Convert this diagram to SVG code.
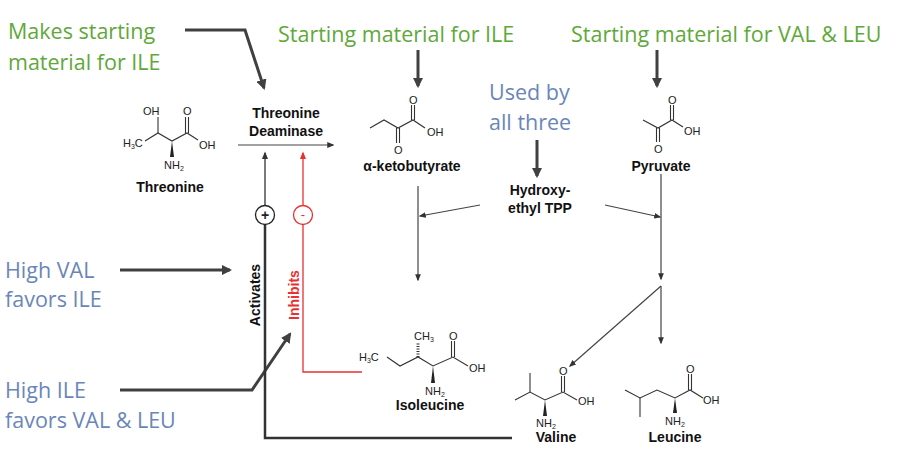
<svg xmlns="http://www.w3.org/2000/svg" width="919" height="462" viewBox="0 0 919 462">
<style>
.g{font-family:"Open Sans",Lato,sans-serif;font-size:21.5px;fill:#5fa83a}
.b{font-family:"Open Sans",Lato,sans-serif;font-size:21.5px;fill:#6a86b8}
.l{font-family:"Liberation Sans",Arial,sans-serif;font-size:14px;font-weight:bold;fill:#111;text-anchor:middle}
.a{font-family:"Liberation Sans",Arial,sans-serif;font-size:11px;fill:#222}
.m{stroke:#333;stroke-width:1.1;fill:none}
.big{stroke:#404040;stroke-width:3;fill:none}
.thin{stroke:#444;stroke-width:1.2;fill:none}
</style>
<defs>
<marker id="ab" viewBox="0 0 10 10" refX="8" refY="5" markerWidth="3.5" markerHeight="3.5" orient="auto"><path d="M0,0L10,5L0,10z" fill="#404040"/></marker>
<marker id="as" viewBox="0 0 10 10" refX="8" refY="5" markerWidth="6" markerHeight="6" orient="auto"><path d="M0,1L10,5L0,9z" fill="#333"/></marker>
<marker id="ar" viewBox="0 0 10 10" refX="8" refY="5" markerWidth="6" markerHeight="6" orient="auto"><path d="M0,1L10,5L0,9z" fill="#e83030"/></marker>
</defs>
<rect width="919" height="462" fill="#fff"/>

<g id="labels">
<text class="g" x="8" y="39">Makes starting</text>
<text class="g" x="8" y="70">material for ILE</text>
<text class="g" x="278" y="42">Starting material for ILE</text>
<text class="g" x="571" y="42">Starting material for VAL &amp; LEU</text>
<text class="b" x="489" y="100">Used by</text>
<text class="b" x="489" y="130">all three</text>
<text class="b" x="5" y="278">High VAL</text>
<text class="b" x="5" y="307">favors ILE</text>
<text class="b" x="5" y="398">High ILE</text>
<text class="b" x="5" y="428">favors VAL &amp; LEU</text>
</g>

<g id="connectors">
<polyline class="big" points="185,30 245,30 264,88" marker-end="url(#ab)"/>
<line class="big" x1="418" y1="50" x2="418" y2="86" marker-end="url(#ab)"/>
<line class="big" x1="657" y1="50" x2="657" y2="86" marker-end="url(#ab)"/>
<line class="big" x1="537" y1="140" x2="537" y2="176" marker-end="url(#ab)"/>
<line class="big" x1="120" y1="270" x2="230" y2="270" marker-end="url(#ab)"/>
<polyline class="big" points="120,390 252,390 290,334" marker-end="url(#ab)"/>
<line class="thin" x1="238" y1="145" x2="333" y2="145" marker-end="url(#as)"/>
<line class="thin" x1="480" y1="205" x2="420" y2="216" marker-end="url(#as)"/>
<line class="thin" x1="605" y1="205" x2="660" y2="217" marker-end="url(#as)"/>
<line class="thin" x1="418" y1="186" x2="418" y2="280" marker-end="url(#as)"/>
<line class="thin" x1="661" y1="174" x2="661" y2="279" marker-end="url(#as)"/>
<line class="thin" x1="661" y1="286" x2="570" y2="366" marker-end="url(#as)"/>
<line class="thin" x1="661" y1="286" x2="661" y2="343" marker-end="url(#as)"/>
<polyline points="512,438 265,438 265,225" style="stroke:#333;stroke-width:2.5;fill:none"/>
<line x1="265" y1="206" x2="265" y2="153" style="stroke:#333;stroke-width:1.3" marker-end="url(#as)"/>
<circle cx="265" cy="215" r="9.5" fill="#fff" stroke="#222" stroke-width="1.3"/>
<text x="265" y="220" text-anchor="middle" style="font-family:'Liberation Sans',sans-serif;font-size:14px;font-weight:bold;fill:#222">+</text>
<polyline points="362,372 303,372 303,225" style="stroke:#e83030;stroke-width:1.3;fill:none"/>
<line x1="303" y1="206" x2="303" y2="153" style="stroke:#e83030;stroke-width:1.3" marker-end="url(#ar)"/>
<circle cx="303" cy="215" r="9.5" fill="#fff" stroke="#e83030" stroke-width="1.3"/>
<text x="303" y="219" text-anchor="middle" style="font-family:'Liberation Sans',sans-serif;font-size:13px;fill:#e83030">-</text>
<text transform="translate(260,295) rotate(-90)" class="l" style="font-size:14px">Activates</text>
<text transform="translate(299,295) rotate(-90)" class="l" style="font-size:14px;fill:#e83030">Inhibits</text>
</g>

<g id="threonine">
<polyline class="m" points="145,141 158,133 172,141 187,133 198,140"/>
<line class="m" x1="158" y1="133" x2="158" y2="117"/>
<path d="M172,141 L170,157 L174,157z" fill="#222"/>
<line class="m" x1="185.5" y1="133" x2="185.5" y2="117"/><line class="m" x1="188.5" y1="133" x2="188.5" y2="117"/>
<text class="a" x="143" y="115">OH</text>
<text class="a" x="183" y="115">O</text>
<text class="a" x="123" y="147">H<tspan font-size="7" dy="2">3</tspan><tspan dy="-2">C</tspan></text>
<text class="a" x="199" y="149">OH</text>
<text class="a" x="164" y="169">NH<tspan font-size="7" dy="2">2</tspan></text>
<text class="l" x="170" y="192">Threonine</text>
</g>

<g id="deaminase">
<text class="l" x="286" y="118">Threonine</text>
<text class="l" x="286" y="136">Deaminase</text>
</g>

<g id="ketobutyrate">
<polyline class="m" points="370,128 384,120 398,128 413,120 425,128"/>
<line class="m" x1="396.5" y1="128" x2="396.5" y2="143"/><line class="m" x1="399.5" y1="128" x2="399.5" y2="143"/>
<line class="m" x1="411.5" y1="120" x2="411.5" y2="105"/><line class="m" x1="414.5" y1="120" x2="414.5" y2="105"/>
<text class="a" x="409" y="104">O</text>
<text class="a" x="394" y="154">O</text>
<text class="a" x="427" y="136">OH</text>
<text class="l" x="412" y="171">α-ketobutyrate</text>
</g>

<g id="pyruvate">
<polyline class="m" points="643,120 658,128 672,120 683,127"/>
<line class="m" x1="656.5" y1="128" x2="656.5" y2="142"/><line class="m" x1="659.5" y1="128" x2="659.5" y2="142"/>
<line class="m" x1="670.5" y1="120" x2="670.5" y2="105"/><line class="m" x1="673.5" y1="120" x2="673.5" y2="105"/>
<text class="a" x="668" y="104">O</text>
<text class="a" x="654" y="153">O</text>
<text class="a" x="684" y="135">OH</text>
<text class="l" x="661" y="171">Pyruvate</text>
</g>

<g id="hydroxyethyl">
<text class="l" x="540" y="195">Hydroxy-</text>
<text class="l" x="540" y="213">ethyl TPP</text>
</g>

<g id="isoleucine">
<polyline class="m" points="387,357 400,366 418,357 433,366 453,357 468,366"/>
<line x1="418" y1="357" x2="418" y2="342" style="stroke:#333;stroke-width:3;stroke-dasharray:1 1.5"/>
<path d="M433,366 L431,383 L435,383z" fill="#222"/>
<line class="m" x1="451.5" y1="357" x2="451.5" y2="341"/><line class="m" x1="454.5" y1="357" x2="454.5" y2="341"/>
<text class="a" x="414" y="340">CH<tspan font-size="7" dy="2">3</tspan></text>
<text class="a" x="359" y="361">H<tspan font-size="7" dy="2">3</tspan><tspan dy="-2">C</tspan></text>
<text class="a" x="449" y="340">O</text>
<text class="a" x="469" y="372">OH</text>
<text class="a" x="425" y="395">NH<tspan font-size="7" dy="2">2</tspan></text>
<text class="l" x="430" y="410">Isoleucine</text>
</g>

<g id="valine">
<polyline class="m" points="515,400 530,392 545,400 563,392 577,400"/>
<line class="m" x1="530" y1="392" x2="530" y2="373"/>
<path d="M545,400 L543,416 L547,416z" fill="#222"/>
<line class="m" x1="561.5" y1="392" x2="561.5" y2="376"/><line class="m" x1="564.5" y1="392" x2="564.5" y2="376"/>
<text class="a" x="559" y="375">O</text>
<text class="a" x="578" y="405">OH</text>
<text class="a" x="536" y="427">NH<tspan font-size="7" dy="2">2</tspan></text>
<text class="l" x="556" y="442">Valine</text>
</g>

<g id="leucine">
<polyline class="m" points="625,390 640,398 657,390 675,398 690,390 703,398"/>
<line class="m" x1="640" y1="398" x2="640" y2="417"/>
<path d="M675,398 L673,413 L677,413z" fill="#222"/>
<line class="m" x1="688.5" y1="390" x2="688.5" y2="374"/><line class="m" x1="691.5" y1="390" x2="691.5" y2="374"/>
<text class="a" x="686" y="373">O</text>
<text class="a" x="703" y="404">OH</text>
<text class="a" x="665" y="425">NH<tspan font-size="7" dy="2">2</tspan></text>
<text class="l" x="675" y="442">Leucine</text>
</g>
</svg>
